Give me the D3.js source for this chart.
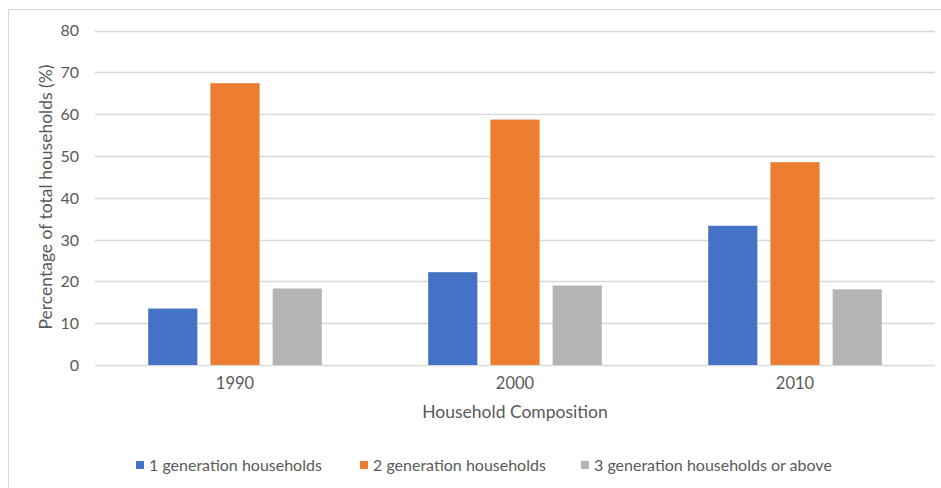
<!DOCTYPE html>
<html>
<head>
<meta charset="utf-8">
<script src="https://cdn.jsdelivr.net/npm/d3@7"></script>
<style>
    body { margin: 0; background: #ffffff; }
    text { font-family: Lato, "Open Sans", sans-serif; fill: #595959; }
</style>
</head>
<body>
<div id="vis"></div>
<script>

var years = ["1990", "2000", "2010"];
var seriesNames = ["1 generation households", "2 generation households", "3 generation households or above"];
var oneGen = [13.5, 22.2, 33.3];
var twoGen = [67.4, 58.7, 48.5];
var threeGen = [18.3, 19.0, 18.1];
var yTicks = [0, 10, 20, 30, 40, 50, 60, 70, 80];
var colors = ["#4472c4", "#ed7d31", "#b4b4b4"];

var seriesValues = [oneGen, twoGen, threeGen];

var width = 941,
    height = 488;

var margin = {top: 30.5, right: 6, bottom: 123, left: 95};

var svg = d3.select("#vis")
    .append("svg")
    .attr("width", width)
    .attr("height", height);

// chart frame (runs off the right/bottom edge like the screenshot)
svg.append("rect")
    .attr("x", 8.5)
    .attr("y", 9.5)
    .attr("width", 1000)
    .attr("height", 600)
    .attr("fill", "none")
    .attr("stroke", "#d9d9d9");

var x0 = d3.scaleBand()
    .domain(years)
    .range([margin.left, width - margin.right]);

// bars of one group take ~62% of the band, centred
var groupWidth = x0.bandwidth() * 0.62;

var x1 = d3.scaleBand()
    .domain(d3.range(seriesNames.length))
    .range([(x0.bandwidth() - groupWidth) / 2, (x0.bandwidth() + groupWidth) / 2])
    .paddingInner(0.21);

var y = d3.scaleLinear()
    .domain([0, 80])
    .range([height - margin.bottom, margin.top]);

////////// grid //////////

svg.append("g")
    .selectAll("line")
    .data(yTicks)
    .enter()
    .append("line")
    .attr("x1", margin.left)
    .attr("x2", width - margin.right)
    .attr("y1", function (d) { return Math.round(y(d)) + 0.5; })
    .attr("y2", function (d) { return Math.round(y(d)) + 0.5; })
    .attr("stroke", "#d9d9d9")
    .attr("stroke-width", 1.3);

var yAxis = svg.append("g")
    .attr("transform", "translate(" + (margin.left - 16) + ",0)")
    .call(d3.axisLeft(y).tickValues(yTicks).tickSize(0).tickPadding(0));

yAxis.select(".domain").remove();
yAxis.selectAll("text")
    .style("font-size", "16px")
    .attr("dy", "0.34em");

////////// bars //////////

var groups = svg.append("g")
    .selectAll("g")
    .data(years)
    .enter()
    .append("g")
    .attr("transform", function (d) { return "translate(" + x0(d) + ",0)"; });

groups.selectAll("rect")
    .data(function (d, i) {
        return seriesValues.map(function (s, k) { return {k: k, value: s[i]}; });
    })
    .enter()
    .append("rect")
    .attr("x", function (d) { return x1(d.k); })
    .attr("width", x1.bandwidth())
    .attr("y", function (d) { return y(d.value); })
    .attr("height", function (d) { return y(0) - y(d.value); })
    .attr("fill", function (d) { return colors[d.k]; });

// category labels
var xAxis = svg.append("g")
    .attr("transform", "translate(0," + (y(0) + 12) + ")")
    .call(d3.axisBottom(x0).tickSize(0).tickPadding(0));

xAxis.select(".domain").remove();
xAxis.selectAll("text")
    .style("font-size", "16.5px")
    .attr("dy", "0.71em");

////////// titles //////////

svg.append("text")
    .attr("x", (margin.left + width - margin.right) / 2)
    .attr("y", 418)
    .attr("text-anchor", "middle")
    .style("font-size", "17.5px")
    .text("Household Composition");

svg.append("text")
    .attr("transform", "translate(52,197) rotate(-90)")
    .attr("text-anchor", "middle")
    .style("font-size", "17.5px")
    .text("Percentage of total households (%)");

////////// legend //////////

var legendX = [136, 360, 581];

var legend = svg.append("g")
    .selectAll("g")
    .data(seriesNames)
    .enter()
    .append("g")
    .attr("transform", function (d, i) { return "translate(" + legendX[i] + ",465)"; });

legend.append("rect")
    .attr("x", 0)
    .attr("y", -4)
    .attr("width", 8)
    .attr("height", 8)
    .attr("fill", function (d, i) { return colors[i]; });

legend.append("text")
    .attr("x", 13)
    .attr("y", 5.5)
    .style("font-size", "16px")
    .text(function (d) { return d; });

</script>
</body>
</html>
